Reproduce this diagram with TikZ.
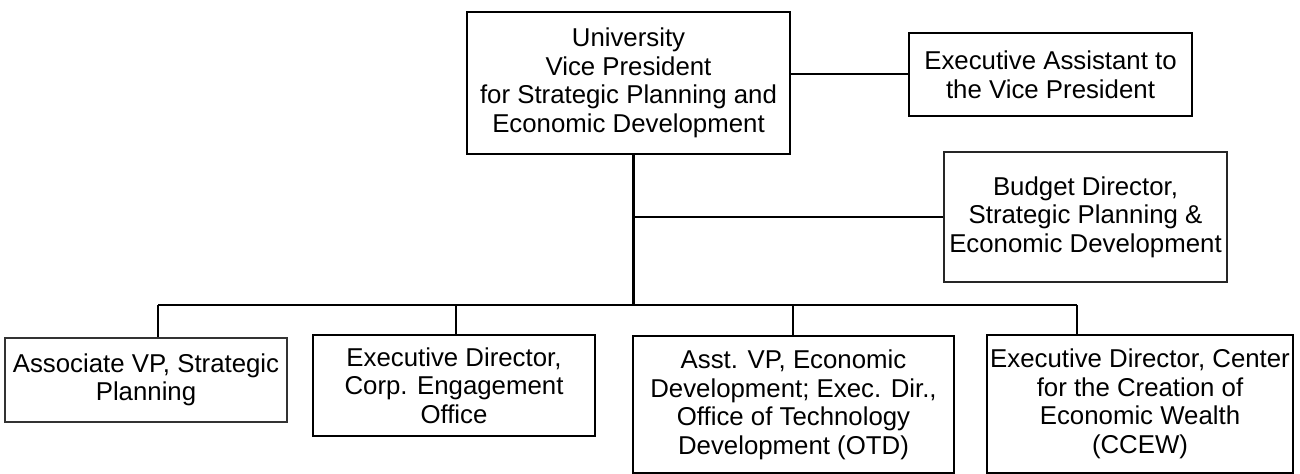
\documentclass[tikz,border=0pt]{standalone}
\usepackage{fontspec}
\setmainfont{Liberation Sans}
\begin{document}
\begin{tikzpicture}[x=0.5pt,y=-0.5pt,
  box/.style={draw=black, line width=1pt, rectangle, inner sep=0pt, align=center,
    font=\fontsize{12.9}{14.3}\selectfont},
  link/.style={draw=black, line width=1pt},
  thinlink/.style={draw=black, line width=0.65pt},
  trunkline/.style={draw=black, line width=1.5pt}]
\useasboundingbox (0,0) rectangle (1300,474);
\node[box, minimum width=161.5pt, minimum height=71pt] (top) at (628.5,83)
  {University\\Vice President\\for Strategic Planning and\\Economic Development};
\node[box, minimum width=141.5pt, minimum height=41.5pt] (asst) at (1050.5,74.5)
  {Executive Assistant to\\the Vice President};
\node[box, draw=black!85, minimum width=141.5pt, minimum height=65pt] (budget) at (1085.5,217)
  {Budget Director,\\Strategic Planning \&\\Economic Development};
\node[box, draw=black!80, line width=0.8pt, minimum width=141pt, minimum height=42pt] (b1) at (146,380)
  {Associate VP, Strategic\\Planning};
\node[box, minimum width=141pt, minimum height=50.5pt] (b2) at (454,385.5)
  {Executive Director,\\Corp. Engagement\\Office};
\node[box, minimum width=160.5pt, minimum height=68.5pt] (b3) at (793.5,405)
  {Asst. VP, Economic\\Development; Exec. Dir.,\\Office of Technology\\Development (OTD)};
\node[box, minimum width=153pt, minimum height=69pt] (b4) at (1140,404)
  {Executive Director, Center\\for the Creation of\\Economic Wealth\\(CCEW)};
\coordinate (j) at (633,305);
\coordinate (d1) at (158,305);
\coordinate (d2) at (456,305);
\coordinate (d3) at (793,305);
\coordinate (d4) at (1077,305);
\draw[link] (asst.west) -- (asst.west -| top.east);
\draw[trunkline] (j |- top.south) -- (j);
\draw[link] (budget.west) -- (budget.west -| j);
\draw[link] (d1) -- (d4);
\draw[link] (d1) -- (d1 |- b1.north);
\draw[thinlink] (d2) -- (d2 |- b2.north);
\draw[link] (d3) -- (d3 |- b3.north);
\draw[link] (d4) -- (d4 |- b4.north);
\end{tikzpicture}
\end{document}
